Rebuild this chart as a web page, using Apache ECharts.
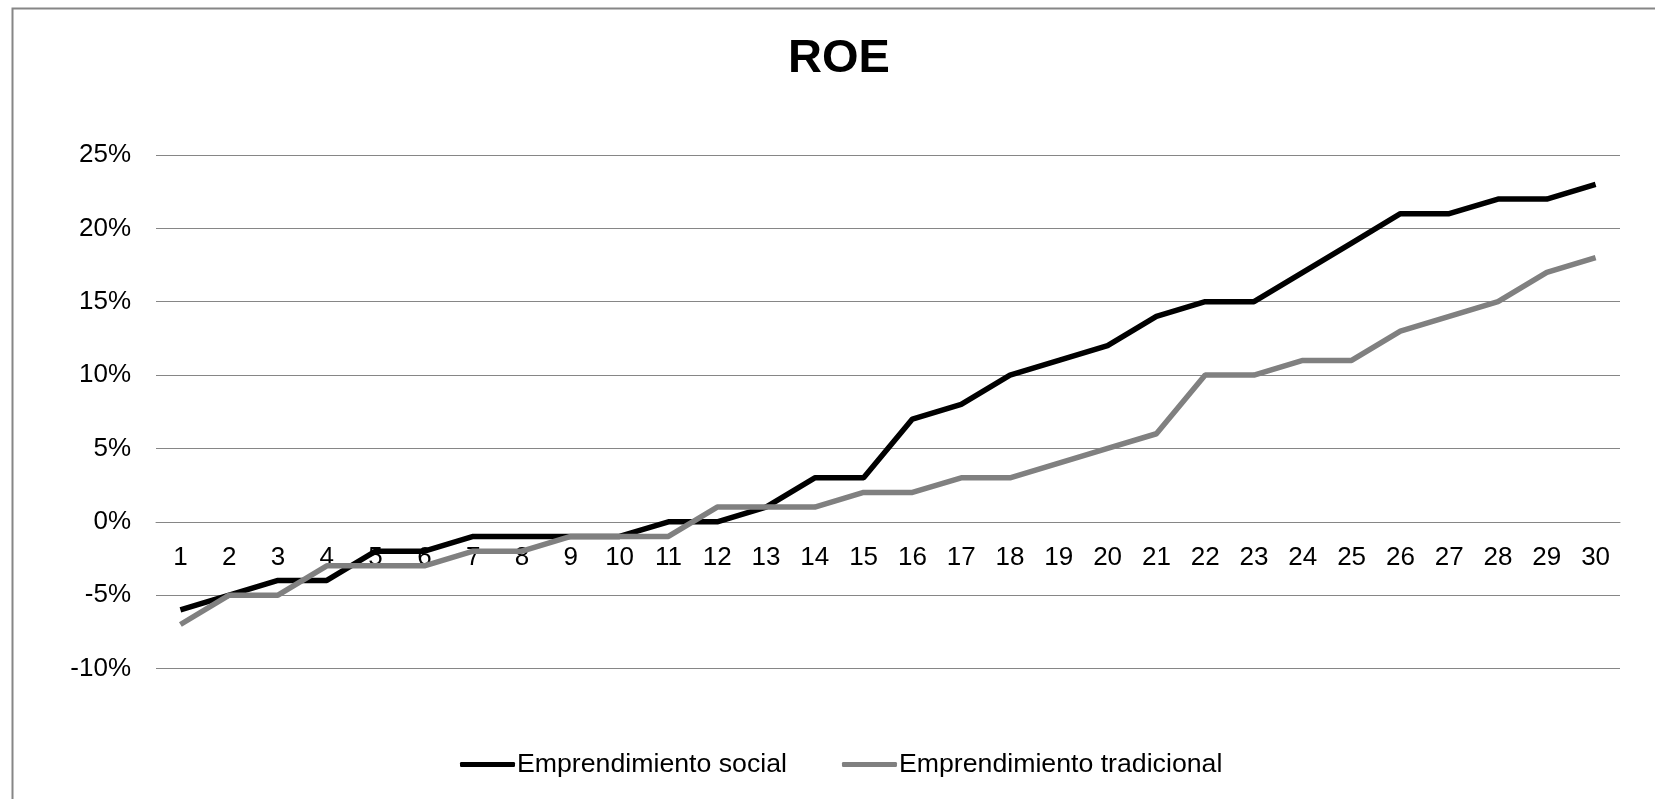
<!DOCTYPE html>
<html>
<head>
<meta charset="utf-8">
<script src="https://cdn.jsdelivr.net/npm/echarts@6/dist/echarts.min.js"></script>
<style>
html,body{margin:0;padding:0;background:#fff;}
#chart{width:1655px;height:799px;}
</style>
</head>
<body>
<div id="chart"></div>
<script>
const categories = ['1','2','3','4','5','6','7','8','9','10','11','12','13','14','15','16','17','18','19','20','21','22','23','24','25','26','27','28','29','30'];
const social = [-6,-5,-4,-4,-2,-2,-1,-1,-1,-1,0,0,1,3,3,7,8,10,11,12,14,15,15,17,19,21,21,22,22,23];
const tradicional = [-7,-5,-5,-3,-3,-3,-2,-2,-1,-1,-1,1,1,1,2,2,3,3,4,5,6,10,10,11,11,13,14,15,17,18];
const seriesNames = ['Emprendimiento social','Emprendimiento tradicional'];
const titleText = 'ROE';
const yMin = -10, yMax = 25, yStep = 5;

const chart = echarts.init(document.getElementById('chart'));
const font = 'Liberation Sans, Arial, sans-serif';
const gridTop = 155, gridBottom = 130.5, H = 799;
const plotH = H - gridTop - gridBottom;
const zeroOffset = -plotH * (0 - yMin) / (yMax - yMin);
chart.setOption({
  animation: false,
  backgroundColor: '#fff',
  title: {
    text: titleText,
    left: 783, top: 31,
    textStyle: {fontFamily: font, fontSize: 47, fontWeight: 'bold', color: '#000'}
  },
  graphic: [{
    type: 'rect', left: 10, top: 6,
    shape: {width: 1700, height: 900},
    style: {fill: 'none', stroke: '#868686', lineWidth: 2},
    silent: true
  }],
  legend: {
    left: 455, top: 746,
    itemWidth: 55, itemHeight: 5, itemGap: 55,
    icon: 'roundRect',
    textStyle: {fontFamily: font, fontSize: 26.7, color: '#000', padding: [0, 0, 0, -3]},
    data: seriesNames
  },
  grid: {left: 156, right: 35, top: gridTop, bottom: gridBottom, containLabel: false},
  xAxis: {
    type: 'category',
    data: categories,
    boundaryGap: true,
    offset: zeroOffset,
    axisLine: {onZero: false, lineStyle: {color: '#868686', width: 1}},
    axisTick: {show: false},
    axisLabel: {fontFamily: font, fontSize: 26, color: '#000', margin: 23, interval: 0},
    splitLine: {show: false}
  },
  yAxis: {
    type: 'value',
    min: yMin, max: yMax, interval: yStep,
    axisLine: {show: false},
    axisTick: {show: false},
    axisLabel: {fontFamily: font, fontSize: 26, color: '#000', margin: 25, formatter: v => v + '%'},
    splitLine: {lineStyle: {color: '#868686', width: 1}}
  },
  series: [
    {name: seriesNames[0], type: 'line', data: social, symbol: 'none', lineStyle: {color: '#000', width: 5.5}, itemStyle: {color: '#000'}},
    {name: seriesNames[1], type: 'line', data: tradicional, symbol: 'none', lineStyle: {color: '#808080', width: 5.5}, itemStyle: {color: '#808080'}}
  ]
});
</script>
</body>
</html>
